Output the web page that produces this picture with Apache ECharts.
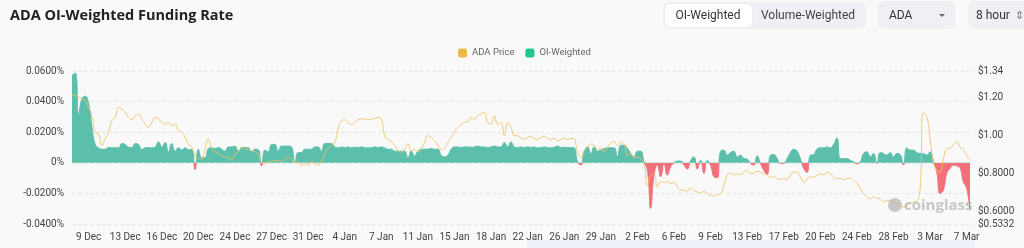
<!DOCTYPE html>
<html>
<head>
<meta charset="utf-8">
<script src="https://cdn.jsdelivr.net/npm/echarts@6/dist/echarts.min.js"></script>
<style>
  html, body { margin: 0; padding: 0; background: #f9f9f9; }
  #chart { width: 1024px; height: 248px; }
</style>
</head>
<body>
<div id="chart"></div>
<script>
// 8-hour funding intervals, first point 7 Dec 2021 16:00 UTC
const START = Date.UTC(2021, 11, 7, 16)
const STEP = 8 * 3600 * 1000
const MONTHS = ['Jan', 'Feb', 'Mar', 'Apr', 'May', 'Jun', 'Jul', 'Aug', 'Sep', 'Oct', 'Nov', 'Dec']

// OI-weighted funding rate, %
const fundingRate = [
  0.0572, 0.0587, 0.0315, 0.0420, 0.0435, 0.0387, 0.0235, 0.0120, 0.0098, 0.0089,
  0.0089, 0.0102, 0.0098, 0.0100, 0.0098, 0.0126, 0.0120, 0.0102, 0.0100, 0.0126,
  0.0120, 0.0087, 0.0098, 0.0100, 0.0098, 0.0102, 0.0137, 0.0104, 0.0133, 0.0072,
  0.0126, 0.0076, 0.0098, 0.0083, 0.0098, 0.0087, 0.0087, -0.0045, 0.0089, 0.0035,
  0.0035, 0.0093, 0.0098, 0.0093, 0.0100, 0.0089, 0.0076, 0.0104, 0.0104, 0.0109,
  0.0076, 0.0098, 0.0100, 0.0098, 0.0072, 0.0089, 0.0087, -0.0020, 0.0083, 0.0072,
  0.0120, 0.0120, 0.0076, 0.0109, 0.0109, 0.0109, 0.0104, 0.0000, 0.0067, 0.0067,
  0.0089, 0.0089, 0.0089, 0.0104, 0.0104, 0.0076, 0.0126, 0.0126, 0.0126, 0.0104,
  0.0098, 0.0104, 0.0100, 0.0104, 0.0098, 0.0102, 0.0100, 0.0104, 0.0100, 0.0098,
  0.0100, 0.0104, 0.0100, 0.0104, 0.0098, 0.0089, 0.0089, 0.0076, 0.0076, 0.0076,
  0.0076, 0.0033, 0.0076, 0.0046, 0.0076, 0.0089, 0.0089, 0.0089, 0.0093, 0.0089,
  0.0089, 0.0050, 0.0039, 0.0050, 0.0089, 0.0104, 0.0104, 0.0100, 0.0104, 0.0104,
  0.0102, 0.0104, 0.0109, 0.0104, 0.0104, 0.0100, 0.0104, 0.0109, 0.0104, 0.0104,
  0.0133, 0.0104, 0.0137, 0.0104, 0.0100, 0.0104, 0.0100, 0.0104, 0.0100, 0.0104,
  0.0098, 0.0100, 0.0104, 0.0100, 0.0098, 0.0102, 0.0109, 0.0100, 0.0102, 0.0100,
  0.0100, 0.0098, 0.0007, -0.0015, 0.0072, 0.0104, 0.0061, 0.0104, 0.0076, 0.0083,
  0.0093, 0.0098, 0.0098, 0.0098, 0.0043, 0.0115, 0.0115, 0.0093, 0.0061, 0.0039,
  0.0076, 0.0076, 0.0007, -0.0050, -0.0298, -0.0080, -0.0015, -0.0091, -0.0004, -0.0080,
  -0.0026, 0.0000, 0.0011, 0.0011, -0.0015, -0.0041, 0.0015, 0.0039, -0.0041, 0.0017,
  -0.0070, 0.0015, -0.0015, -0.0091, -0.0098, 0.0076, 0.0083, 0.0050, 0.0067, 0.0076,
  0.0039, 0.0050, 0.0028, 0.0024, -0.0004, -0.0015, 0.0046, -0.0004, -0.0048, -0.0076,
  0.0050, 0.0054, 0.0028, -0.0004, -0.0004, 0.0028, 0.0067, 0.0089, 0.0076, 0.0028,
  -0.0037, -0.0063, 0.0050, 0.0054, 0.0089, 0.0098, 0.0098, 0.0104, 0.0098, 0.0120,
  0.0163, 0.0028, 0.0028, 0.0028, 0.0017, 0.0007, -0.0007, 0.0007, 0.0061, 0.0072,
  0.0039, 0.0061, -0.0004, 0.0067, 0.0061, 0.0050, 0.0067, 0.0039, 0.0061, 0.0054,
  -0.0015, 0.0098, 0.0083, 0.0083, 0.0067, 0.0061, 0.0061, 0.0050, 0.0072, 0.0007,
  -0.0059, -0.0200, -0.0178, -0.0070, -0.0037, -0.0015, -0.0020, -0.0033, -0.0124, -0.0167,
  -0.0309
]

// ADA price, USD
const adaPrice = [
  1.214, 1.209, 1.204, 1.191, 1.183, 1.148, 1.104, 1.017, 1.008, 0.947,
  0.982, 1.017, 1.078, 1.095, 1.148, 1.139, 1.122, 1.095, 1.083, 1.104,
  1.113, 1.087, 1.060, 1.043, 1.069, 1.095, 1.087, 1.069, 1.060, 1.069,
  1.052, 1.060, 1.025, 1.017, 0.990, 0.955, 0.938, 0.894, 0.877, 0.877,
  0.929, 0.982, 0.929, 0.915, 0.903, 0.894, 0.885, 0.885, 0.868, 0.903,
  0.913, 0.938, 0.929, 0.926, 0.920, 0.915, 0.903, 0.859, 0.856, 0.859,
  0.863, 0.868, 0.868, 0.863, 0.877, 0.885, 0.877, 0.859, 0.859, 0.838,
  0.851, 0.842, 0.863, 0.851, 0.845, 0.868, 0.903, 0.933, 0.947, 0.964,
  1.034, 1.078, 1.083, 1.069, 1.060, 1.066, 1.083, 1.087, 1.087, 1.083,
  1.087, 1.090, 1.095, 1.087, 0.999, 0.982, 0.968, 0.950, 0.920, 0.913,
  0.926, 0.955, 0.920, 0.926, 0.915, 0.926, 0.964, 0.999, 0.990, 0.973,
  0.947, 0.926, 0.933, 0.964, 0.990, 1.017, 1.043, 1.060, 1.069, 1.073,
  1.095, 1.087, 1.104, 1.113, 1.122, 1.069, 1.060, 1.104, 1.060, 1.069,
  0.999, 1.069, 1.043, 0.999, 0.999, 0.985, 0.982, 0.990, 0.996, 0.982,
  0.978, 0.990, 0.996, 0.985, 0.978, 0.985, 0.973, 0.978, 0.985, 0.978,
  0.985, 0.982, 0.913, 0.885, 0.920, 0.938, 0.955, 0.950, 0.926, 0.933,
  0.913, 0.938, 0.961, 0.968, 0.947, 0.964, 0.955, 0.894, 0.903, 0.885,
  0.885, 0.877, 0.851, 0.737, 0.789, 0.798, 0.728, 0.758, 0.751, 0.758,
  0.746, 0.754, 0.728, 0.711, 0.711, 0.705, 0.723, 0.711, 0.702, 0.698,
  0.705, 0.693, 0.684, 0.681, 0.688, 0.693, 0.737, 0.789, 0.803, 0.793,
  0.798, 0.793, 0.807, 0.816, 0.798, 0.803, 0.810, 0.807, 0.798, 0.793,
  0.781, 0.781, 0.772, 0.768, 0.772, 0.768, 0.789, 0.807, 0.807, 0.781,
  0.754, 0.768, 0.781, 0.781, 0.789, 0.798, 0.793, 0.807, 0.798, 0.781,
  0.772, 0.775, 0.768, 0.772, 0.775, 0.763, 0.746, 0.719, 0.693, 0.676,
  0.667, 0.676, 0.670, 0.663, 0.649, 0.658, 0.658, 0.641, 0.641, 0.628,
  0.623, 0.632, 0.641, 0.649, 0.653, 0.719, 1.120, 1.100, 0.982, 0.859,
  0.816, 0.807, 0.877, 0.929, 0.933, 0.950, 0.968, 0.938, 0.926, 0.894,
  0.873
]

const priceTicks = [0.5332, 0.6, 0.8, 1.0, 1.2, 1.34]

const timestamps = fundingRate.map((_, i) => START + i * STEP)

const GREEN = '#5bbfab'
const RED = '#f27079'
const PRICE_COLOR = '#f1c163'

function formatDay(ts) {
  const d = new Date(ts)
  return `${d.getUTCDate()} ${MONTHS[d.getUTCMonth()]}`
}

function formatPrice(v) {
  return v >= 1 ? '$' + v.toFixed(2) : '$' + v.toFixed(4)
}

const chart = echarts.init(document.getElementById('chart'))

const labelFont = { color: '#444', fontSize: 10, fontFamily: 'Roboto, sans-serif' }

chart.setOption({
  backgroundColor: '#f9f9f9',
  animation: false,
  textStyle: { fontFamily: 'Roboto, sans-serif' },
  graphic: [
    {
      type: 'text', left: 10, top: 8,
      style: { text: 'ADA OI-Weighted Funding Rate', font: 'bold 14.5px "Open Sans", sans-serif', fill: '#222' }
    },
    // segmented control
    { type: 'rect', shape: { x: 663, y: 2, width: 203, height: 27, r: 7 }, style: { fill: '#eef0f3' } },
    { type: 'rect', shape: { x: 665, y: 4, width: 87, height: 23, r: 5 }, style: { fill: '#fff', shadowBlur: 2, shadowColor: 'rgba(0,0,0,0.06)' } },
    { type: 'text', x: 708, y: 16, style: { text: 'OI-Weighted', font: '12px Roboto, sans-serif', fill: '#333', align: 'center', verticalAlign: 'middle' } },
    { type: 'text', x: 808, y: 16, style: { text: 'Volume-Weighted', font: '12px Roboto, sans-serif', fill: '#444', align: 'center', verticalAlign: 'middle' } },
    // coin dropdown
    { type: 'rect', shape: { x: 878, y: 1, width: 77, height: 28, r: 6 }, style: { fill: '#eef0f3' } },
    { type: 'text', x: 889, y: 16, style: { text: 'ADA', font: '12px Roboto, sans-serif', fill: '#333', verticalAlign: 'middle' } },
    { type: 'polygon', shape: { points: [[939, 14], [945, 14], [942, 17]] }, style: { fill: '#666' } },
    // interval dropdown
    { type: 'rect', shape: { x: 968, y: 1, width: 70, height: 28, r: 6 }, style: { fill: '#eef0f3' } },
    { type: 'text', x: 976, y: 16, style: { text: '8 hour', font: '12px Roboto, sans-serif', fill: '#333', verticalAlign: 'middle' } },
    { type: 'text', x: 1015, y: 16, style: { text: '⇕', font: '11px "DejaVu Sans", sans-serif', fill: '#777', verticalAlign: 'middle' } },
    // watermark
    { type: 'circle', shape: { cx: 895, cy: 205, r: 7 }, style: { fill: 'rgba(180,180,180,0.7)' }, z: 100 },
    {
      type: 'text', x: 904, y: 206, z: 100,
      style: { text: 'coinglass', font: 'bold 15px "Open Sans", sans-serif', fill: 'rgba(150,150,150,0.5)', verticalAlign: 'middle' }
    },
    // slider strip at the bottom
    { type: 'rect', shape: { x: 527, y: 240, width: 448, height: 8 }, style: { fill: '#eef0fa' } }
  ],
  legend: {
    top: 43,
    left: 453,
    itemWidth: 9,
    itemHeight: 9,
    itemGap: 11,
    icon: 'roundRect',
    data: ['ADA Price', 'OI-Weighted'],
    textStyle: { color: '#666', fontSize: 9.5, fontFamily: 'Roboto, sans-serif' }
  },
  grid: { left: 72, right: 54, top: 71, bottom: 24 },
  // bounded pieces so the line gets a colour gradient split at zero
  visualMap: {
    show: false,
    seriesIndex: 0,
    dimension: 1,
    pieces: [
      { gte: 0, lte: 1, color: GREEN },
      { gte: -1, lt: 0, color: RED }
    ]
  },
  xAxis: {
    type: 'category',
    boundaryGap: false,
    data: timestamps,
    axisLine: { show: false },
    axisTick: { show: false },
    axisLabel: {
      ...labelFont,
      margin: 8,
      interval: idx => idx >= 5 && (idx - 5) % 11 === 0,
      formatter: v => formatDay(Number(v))
    }
  },
  yAxis: [
    {
      type: 'value',
      min: -0.04,
      max: 0.06,
      interval: 0.02,
      axisLine: { show: false },
      axisTick: { show: false },
      splitLine: { lineStyle: { color: '#e8e8e8', type: 'dashed' } },
      axisLabel: {
        ...labelFont,
        margin: 8,
        formatter: v => (Math.abs(v) < 1e-9 ? '0%' : v.toFixed(4) + '%')
      }
    },
    {
      type: 'value',
      position: 'right',
      min: 0.5332,
      max: 1.34,
      axisLine: { show: false },
      axisTick: { show: false },
      splitLine: { show: false },
      axisLabel: {
        ...labelFont,
        margin: 8,
        customValues: priceTicks,
        formatter: v => formatPrice(v)
      }
    }
  ],
  series: [
    {
      name: 'OI-Weighted',
      type: 'line',
      yAxisIndex: 0,
      smooth: true,
      showSymbol: false,
      data: fundingRate,
      itemStyle: { color: '#22c38e' },
      lineStyle: { width: 1 },
      areaStyle: { opacity: 1 },
      z: 2
    },
    {
      name: 'ADA Price',
      type: 'line',
      yAxisIndex: 1,
      smooth: true,
      showSymbol: false,
      data: adaPrice,
      itemStyle: { color: '#ecb84a' },
      lineStyle: { width: 1, color: PRICE_COLOR, opacity: 0.85 },
      z: 3
    }
  ]
})
</script>
</body>
</html>
